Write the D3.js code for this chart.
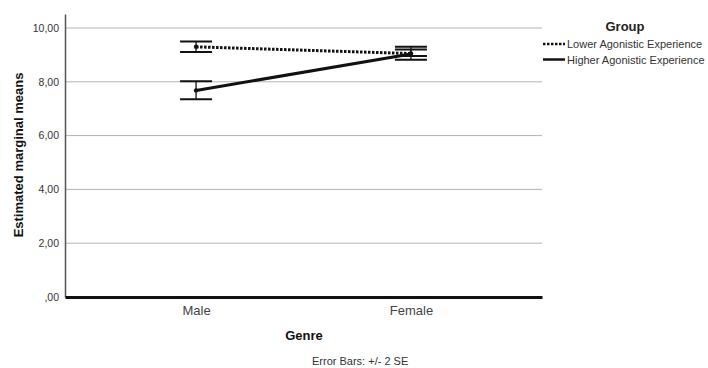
<!DOCTYPE html>
<html>
<head>
<meta charset="utf-8">
<script src="https://cdn.jsdelivr.net/npm/d3@7"></script>
<style>
  body { margin: 0; background: #fff; }
  svg { font-family: Arial, "Liberation Sans", sans-serif; }
</style>
</head>
<body>
<div id="chart"></div>
<script>
// data
const genres = ["Male", "Female"];
const groups = ["Lower Agonistic Experience", "Higher Agonistic Experience"];
const lowerMeans = [9.30, 9.05];
const lowerLo = [9.11, 8.82];
const lowerHi = [9.50, 9.30];
const higherMeans = [7.68, 9.03];
const higherLo = [7.35, 8.96];
const higherHi = [8.02, 9.20];
const yTicks = [0, 2, 4, 6, 8, 10];

const width = 708, height = 368;
const margin = ({ top: 14, right: 166, bottom: 71, left: 65 });

const svg = d3.select("#chart")
    .append("svg")
    .attr("width", width)
    .attr("height", height);

const x = d3.scalePoint()
    .domain(genres)
    .range([margin.left, width - margin.right])
    .padding(0.61);

const y = d3.scaleLinear()
    .domain([0, 10.52])
    .range([height - margin.bottom, margin.top]);

const fmt = v => v === 0 ? ",00" : d3.format(".2f")(v).replace(".", ",");

// gridlines
svg.append("g")
    .selectAll("line")
    .data(yTicks.filter(t => t > 0))
    .join("line")
    .attr("x1", margin.left)
    .attr("x2", width - margin.right)
    .attr("y1", d => y(d))
    .attr("y2", d => y(d))
    .attr("stroke", "#b4b4b4")
    .attr("stroke-width", 1);

// y axis
svg.append("g")
    .attr("transform", `translate(${margin.left},0)`)
    .call(d3.axisLeft(y).tickValues(yTicks).tickFormat(fmt).tickSize(0).tickPadding(6))
    .call(g => g.select(".domain").attr("stroke", "#555").attr("stroke-width", 1.5))
    .call(g => g.selectAll("text").attr("font-size", 10.5).attr("fill", "#333"));

// x axis
svg.append("g")
    .attr("transform", `translate(0,${y(0)})`)
    .call(d3.axisBottom(x).tickSize(0).tickPadding(9))
    .call(g => g.select(".domain").attr("stroke", "#111").attr("stroke-width", 3))
    .call(g => g.selectAll("text").attr("font-size", 13).attr("fill", "#444"));

const series = [
    { name: groups[0], means: lowerMeans, lo: lowerLo, hi: lowerHi, dash: "2.5,1.5" },
    { name: groups[1], means: higherMeans, lo: higherLo, hi: higherHi, dash: null }
];

const line = d3.line()
    .x(d => x(d.genre))
    .y(d => y(d.v));

const capW = 16;

series.forEach(s => {
    const pts = genres.map((g, i) => ({ genre: g, v: s.means[i], lo: s.lo[i], hi: s.hi[i] }));
    const eb = svg.append("g").attr("stroke", "#111").attr("stroke-width", 2);
    eb.selectAll(".stem")
        .data(pts)
        .join("line")
        .attr("x1", d => x(d.genre))
        .attr("x2", d => x(d.genre))
        .attr("y1", d => y(d.lo))
        .attr("y2", d => y(d.hi))
        .attr("stroke-width", 1.3);
    eb.selectAll(".capHi")
        .data(pts)
        .join("line")
        .attr("x1", d => x(d.genre) - capW)
        .attr("x2", d => x(d.genre) + capW)
        .attr("y1", d => y(d.hi))
        .attr("y2", d => y(d.hi));
    eb.selectAll(".capLo")
        .data(pts)
        .join("line")
        .attr("x1", d => x(d.genre) - capW)
        .attr("x2", d => x(d.genre) + capW)
        .attr("y1", d => y(d.lo))
        .attr("y2", d => y(d.lo));

    svg.append("path")
        .datum(pts)
        .attr("fill", "none")
        .attr("stroke", "#111")
        .attr("stroke-width", 3)
        .attr("stroke-dasharray", s.dash)
        .attr("d", line);

    svg.append("g")
        .selectAll("circle")
        .data(pts)
        .join("circle")
        .attr("cx", d => x(d.genre))
        .attr("cy", d => y(d.v))
        .attr("r", 2.2)
        .attr("fill", "#111");
});

// legend
const legend = svg.append("g").attr("transform", "translate(543,0)");
legend.append("text")
    .attr("x", 82)
    .attr("y", 31)
    .attr("text-anchor", "middle")
    .attr("font-size", 13)
    .attr("font-weight", "bold")
    .attr("fill", "#222")
    .text("Group");
series.forEach((s, i) => {
    const yy = 44 + i * 15.5;
    legend.append("line")
        .attr("x1", 0)
        .attr("x2", 22)
        .attr("y1", yy)
        .attr("y2", yy)
        .attr("stroke", "#111")
        .attr("stroke-width", 2.5)
        .attr("stroke-dasharray", s.dash);
    legend.append("text")
        .attr("x", 24)
        .attr("y", yy + 4)
        .attr("font-size", 11)
        .attr("fill", "#333")
        .text(s.name);
});

// axis titles
svg.append("text")
    .attr("transform", `translate(23,155) rotate(-90)`)
    .attr("text-anchor", "middle")
    .attr("font-size", 13)
    .attr("font-weight", "bold")
    .attr("fill", "#111")
    .text("Estimated marginal means");

svg.append("text")
    .attr("x", 304)
    .attr("y", 340)
    .attr("text-anchor", "middle")
    .attr("font-size", 13)
    .attr("font-weight", "bold")
    .attr("fill", "#111")
    .text("Genre");

svg.append("text")
    .attr("x", 312)
    .attr("y", 365)
    .attr("font-size", 11)
    .attr("fill", "#333")
    .text("Error Bars: +/- 2 SE");
</script>
</body>
</html>
